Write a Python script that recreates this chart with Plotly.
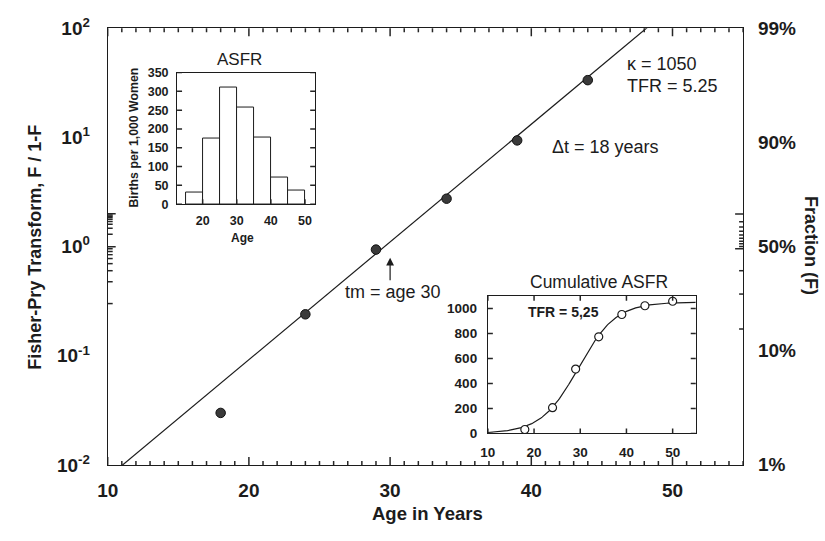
import numpy as np
import plotly.graph_objects as go

# ---- data -----------------------------------------------------------------
# Fisher-Pry transform F/(1-F) of the cumulative fertility fraction by age
ages = [18, 24, 29, 34, 39, 44]
fisher_pry = [0.030, 0.24, 0.94, 2.75, 9.4, 33.5]

# logistic fit parameters
kappa = 1050          # saturation level (births per 1,000 women)
tm = 29.6             # midpoint age
dt = 17.7             # 10% -> 90% characteristic duration (years)
tfr = kappa * 5 / 1000

# age-specific fertility rates, 5-year age groups
asfr_group_start = [15, 20, 25, 30, 35, 40, 45]
asfr = [32, 174, 309, 258, 178, 70, 36]

# cumulative ASFR points
cum_ages = [18, 24, 29, 34, 39, 44, 50]
cum_asfr = np.cumsum(asfr)

# tick definitions
age_ticks = [10, 20, 30, 40, 50]
age_minor = list(range(10, 56))
fp_ticks = [0.01, 0.1, 1, 10, 100]
fp_ticktext = ["10<sup>-2</sup>", "10<sup>-1</sup>", "10<sup>0</sup>",
               "10<sup>1</sup>", "10<sup>2</sup>"]
fraction_major = [0.01, 0.10, 0.50, 0.90, 0.99]
fraction_major_text = ["1%", "10%", "50%", "90%", "99%"]
fraction_minor = [0.02, 0.03, 0.04, 0.05, 0.06, 0.07, 0.08, 0.09,
                  0.20, 0.30, 0.40, 0.60, 0.70, 0.80,
                  0.91, 0.92, 0.93, 0.94, 0.95, 0.96, 0.97, 0.98]
asfr_age_ticks = [20, 30, 40, 50]
asfr_ticks = [0, 50, 100, 150, 200, 250, 300, 350]
cum_age_ticks = [10, 20, 30, 40, 50]
cum_ticks = [0, 200, 400, 600, 800, 1000]

# ---- helpers ----------------------------------------------------------------
W, H = 825, 541
INK = "#1c1c1c"
TICK = "#262626"
FONT = "Liberation Sans"


def px(x):
    return x / W


def py(y):
    return 1 - y / H


def odds(f):
    return f / (1 - f)


slope = np.log10(81) / dt
line_age = np.array([10.0, 55.0])
line_fp = 10 ** (slope * (line_age - tm))

curve_age = np.linspace(10, 55, 181)
curve_r = 10 ** (slope * (curve_age - tm))
curve_cum = kappa * curve_r / (1 + curve_r)

fp_minor = [k * 10.0 ** e for e in range(-2, 2) for k in range(2, 10)]

fig = go.Figure()

# main panel
fig.add_trace(go.Scatter(x=line_age, y=line_fp, mode="lines",
                         line=dict(color=INK, width=1.2),
                         xaxis="x", yaxis="y", hoverinfo="skip"))
fig.add_trace(go.Scatter(x=ages, y=fisher_pry, mode="markers",
                         marker=dict(size=9.5, color="#3a3a3a",
                                     line=dict(color="#111111", width=1)),
                         xaxis="x", yaxis="y"))
# empty trace that keeps the right-hand fraction scale alive
fig.add_trace(go.Scatter(x=[None], y=[None], xaxis="x", yaxis="y2",
                         hoverinfo="skip"))

# ASFR inset
fig.add_trace(go.Bar(x=asfr_group_start, y=asfr, width=5, offset=0,
                     marker=dict(color="white", line=dict(color=INK, width=1)),
                     xaxis="x3", yaxis="y3"))

# cumulative ASFR inset
fig.add_trace(go.Scatter(x=curve_age, y=curve_cum, mode="lines",
                         line=dict(color=INK, width=1.2),
                         xaxis="x4", yaxis="y4", hoverinfo="skip"))
fig.add_trace(go.Scatter(x=cum_ages, y=cum_asfr, mode="markers",
                         marker=dict(size=8, color="white", symbol="circle",
                                     line=dict(color=INK, width=1.2)),
                         xaxis="x4", yaxis="y4"))

bold = dict(family=FONT, color=INK, weight="bold")
axis_common = dict(showline=True, linecolor=INK, linewidth=1, ticks="",
                   showgrid=False, zeroline=False, tickmode="array")

fig.update_layout(
    width=W, height=H,
    margin=dict(l=0, r=0, t=0, b=0),
    paper_bgcolor="white", plot_bgcolor="white",
    showlegend=False,
    font=dict(family=FONT, color=INK),
    bargap=0,
    xaxis=dict(**axis_common, domain=[px(98), px(742)], range=[10, 55],
               anchor="y", tickvals=age_ticks, mirror=True,
               ticklabelstandoff=8, tickfont=dict(size=19, **bold)),
    yaxis=dict(**axis_common, domain=[py(473), py(16)], type="log",
               range=[-2, 2], anchor="x", tickvals=fp_ticks,
               ticktext=fp_ticktext, ticklabelstandoff=13,
               tickfont=dict(size=19, **bold)),
    yaxis2=dict(**axis_common, overlaying="y", side="right", anchor="x",
                type="log", range=[-2, 2],
                tickvals=[odds(f) for f in fraction_major],
                ticktext=fraction_major_text, ticklabelstandoff=10,
                tickfont=dict(size=19, **bold)),
    xaxis3=dict(**axis_common, domain=[px(168.3), px(308.3)],
                range=[12.5, 53], anchor="y3", tickvals=asfr_age_ticks,
                mirror=True, ticklabelstandoff=5,
                tickfont=dict(size=12.5, **bold)),
    yaxis3=dict(**axis_common, domain=[py(200), py(62.3)], range=[0, 350],
                anchor="x3", tickvals=asfr_ticks, mirror=True,
                ticklabelstandoff=5, tickfont=dict(size=12.5, **bold)),
    xaxis4=dict(**axis_common, domain=[px(483.3), px(694)], range=[10, 55],
                anchor="y4", tickvals=cum_age_ticks, mirror=True,
                ticklabelstandoff=6, tickfont=dict(size=13.5, **bold)),
    yaxis4=dict(**axis_common, domain=[py(440), py(296)], range=[0, 1100],
                anchor="x4", tickvals=cum_ticks, mirror=True,
                ticklabelstandoff=7, tickfont=dict(size=13.5, **bold)),
)

# ---- inward tick marks, drawn as pixel-sized line shapes --------------------
tick_line = dict(color=TICK, width=1.5)


def edge_ticks(vals, lengths, data_ref, dom_ref, horizontal, anchor, sign,
               log=False):
    for v, length in zip(vals, lengths):
        pos = float(np.log10(v)) if log else v
        if horizontal:
            fig.add_shape(type="line", xref=data_ref, yref=dom_ref,
                          x0=pos, x1=pos, ysizemode="pixel", yanchor=anchor,
                          y0=0, y1=sign * length, line=tick_line,
                          layer="above")
        else:
            fig.add_shape(type="line", yref=data_ref, xref=dom_ref,
                          y0=pos, y1=pos, xsizemode="pixel", xanchor=anchor,
                          x0=0, x1=sign * length, line=tick_line,
                          layer="above")


# main age axis, bottom and top
age_len = [8 if a in age_ticks else 4 for a in age_minor]
edge_ticks(age_minor, age_len, "x", "y domain", True, 0, 1)
edge_ticks(age_minor, age_len, "x", "y domain", True, 1, -1)
# Fisher-Pry scale on the left
edge_ticks(fp_ticks, [8] * len(fp_ticks), "y", "x domain", False, 0, 1, True)
edge_ticks(fp_minor, [5] * len(fp_minor), "y", "x domain", False, 0, 1, True)
# fraction scale on the right
edge_ticks([odds(f) for f in fraction_major], [8] * len(fraction_major),
           "y", "x domain", False, 1, -1, True)
edge_ticks([odds(f) for f in fraction_minor], [4] * len(fraction_minor),
           "y", "x domain", False, 1, -1, True)
# ASFR inset
edge_ticks(asfr_age_ticks, [5] * 4, "x3", "y3 domain", True, 0, 1)
edge_ticks(asfr_ticks, [5] * 8, "y3", "x3 domain", False, 0, 1)
edge_ticks(asfr_ticks, [5] * 8, "y3", "x3 domain", False, 1, -1)
# cumulative inset
edge_ticks(cum_age_ticks, [5] * 5, "x4", "y4 domain", True, 0, 1)
edge_ticks(cum_age_ticks, [5] * 5, "x4", "y4 domain", True, 1, -1)
edge_ticks(cum_ticks, [5] * 6, "y4", "x4 domain", False, 0, 1)
edge_ticks(cum_ticks, [5] * 6, "y4", "x4 domain", False, 1, -1)


def label(text, x, y, size, bold_text=False, angle=0, xanchor="center"):
    fig.add_annotation(
        text=f"<b>{text}</b>" if bold_text else text,
        x=px(x), y=py(y), xref="paper", yref="paper",
        xanchor=xanchor, yanchor="middle", textangle=angle,
        showarrow=False, font=dict(family=FONT, size=size, color=INK))


# axis titles
label("Fisher-Pry Transform, F / 1-F", 24, 245, 18, True, -90)
label("Fraction (F)", 811, 243, 18, True, 90)
label("Age in Years", 422, 524, 18.5, True)

# fit annotations
label(f"\u03ba = {kappa}", 622, 53, 18, xanchor="left")
label(f"TFR = {tfr:.2f}", 622, 76, 18, xanchor="left")
label(f"\u0394t = {round(dt)} years", 546, 140, 18, xanchor="left")
label(f"tm = age {round(tm)}", 387, 292, 18)
fig.add_annotation(x=round(tm), y=py(256), xref="x", yref="paper",
                   ax=0, ay=24, axref="pixel", ayref="pixel", text="",
                   showarrow=True, arrowhead=2, arrowsize=1.3,
                   arrowwidth=1.2, arrowcolor=INK)

# inset titles
label("ASFR", 232, 49, 17)
label("Births per 1,000 Women", 125, 130, 12.3, True, -90)
label("Age", 235, 235, 12, True)
label("Cumulative ASFR", 596, 282, 17.5)
label(f"TFR = {tfr:.2f}".replace(".", ","), 560, 313, 14, True)

fig.write_html("out.html")
